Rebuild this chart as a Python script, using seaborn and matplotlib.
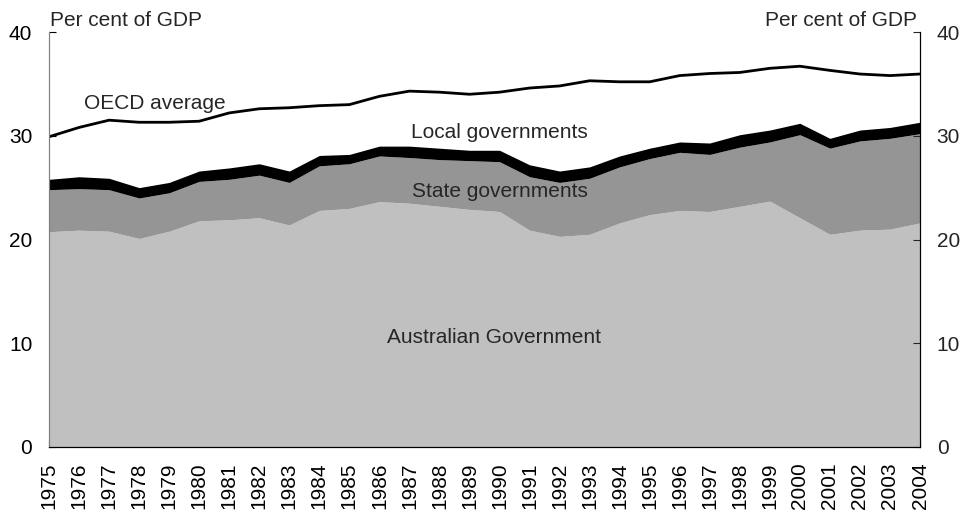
import matplotlib
matplotlib.use("Agg")
import matplotlib.pyplot as plt
import seaborn as sns
import pandas as pd

years = list(range(1975, 2005))

# per cent of GDP
australian = [20.75, 20.9, 20.8, 20.1, 20.8, 21.8, 21.9, 22.1, 21.4, 22.8,
              23.0, 23.65, 23.5, 23.2, 22.9, 22.7, 20.9, 20.3, 20.5, 21.6,
              22.4, 22.8, 22.7, 23.2, 23.7, 22.1, 20.5, 20.9, 21.0, 21.6]
state_top = [24.8, 24.9, 24.8, 24.0, 24.5, 25.6, 25.8, 26.2, 25.5, 27.1,
             27.3, 28.05, 27.9, 27.7, 27.6, 27.5, 26.05, 25.5, 25.9, 27.0,
             27.8, 28.4, 28.2, 28.9, 29.4, 30.1, 28.8, 29.5, 29.75, 30.2]
local_top = [25.8, 26.05, 25.9, 25.0, 25.5, 26.6, 26.9, 27.3, 26.6, 28.1,
             28.2, 29.0, 29.0, 28.8, 28.6, 28.6, 27.2, 26.6, 27.0, 28.05,
             28.8, 29.4, 29.3, 30.1, 30.55, 31.2, 29.75, 30.55, 30.8, 31.3]
oecd = [29.9, 30.8, 31.5, 31.3, 31.3, 31.4, 32.2, 32.6, 32.7, 32.9,
        33.0, 33.8, 34.3, 34.2, 34.0, 34.2, 34.6, 34.8, 35.3, 35.2,
        35.2, 35.8, 36.0, 36.1, 36.5, 36.7, 36.3, 35.95, 35.8, 35.95]

state = [s - a for s, a in zip(state_top, australian)]
local = [l - s for l, s in zip(local_top, state_top)]

df = pd.DataFrame({"year": years, "Australian": australian, "State": state,
                   "Local": local, "OECD": oecd})

sns.set_style("ticks")
plt.rcParams["font.family"] = ["Liberation Sans", "DejaVu Sans"]
FS = 15

fig = plt.figure(figsize=(9.65, 5.13), dpi=100)
ax = fig.add_axes([49 / 965, 66 / 513, 871 / 965, 415 / 513])

ax.stackplot(df["year"], df["Australian"], df["State"], df["Local"],
             colors=["#c0c0c0", "#959595", "#000000"], linewidth=0)
sns.lineplot(data=df, x="year", y="OECD", color="black", linewidth=2, ax=ax)

ax.set_xlim(1975, 2004)
ax.set_ylim(0, 40)
ax.set_yticks([0, 10, 20, 30, 40])
ax.set_xticks(years)
ax.set_xticklabels([str(y) for y in years], rotation=90, fontsize=FS)
ax.set_xlabel("")
ax.set_ylabel("")
ax.tick_params(axis="both", direction="in", length=5, labelsize=FS, colors="black")
ax.tick_params(axis="x", pad=11)
ax.tick_params(axis="y", pad=12)

ax2 = ax.twinx()
ax2.set_ylim(0, 40)
ax2.set_yticks([0, 10, 20, 30, 40])
ax2.tick_params(axis="y", direction="in", length=5, labelsize=FS, pad=12)

for a in (ax, ax2):
    a.spines["top"].set_visible(False)
    a.spines["left"].set_color("#808080")
    a.spines["right"].set_color("black")
    a.spines["bottom"].set_color("black")

ax.text(1976.15, 33.1, "OECD average", fontsize=FS, va="center", ha="left")
ax.text(1990, 30.3, "Local governments", fontsize=FS, va="center", ha="center")
ax.text(1990, 24.6, "State governments", fontsize=FS, va="center", ha="center")
ax.text(1989.8, 10.6, "Australian Government", fontsize=FS, va="center", ha="center")

fig.text(50 / 965, 1 - 20 / 513, "Per cent of GDP", fontsize=FS, va="center", ha="left")
fig.text(917 / 965, 1 - 20 / 513, "Per cent of GDP", fontsize=FS, va="center", ha="right")

fig.savefig("out.png", dpi=100)
